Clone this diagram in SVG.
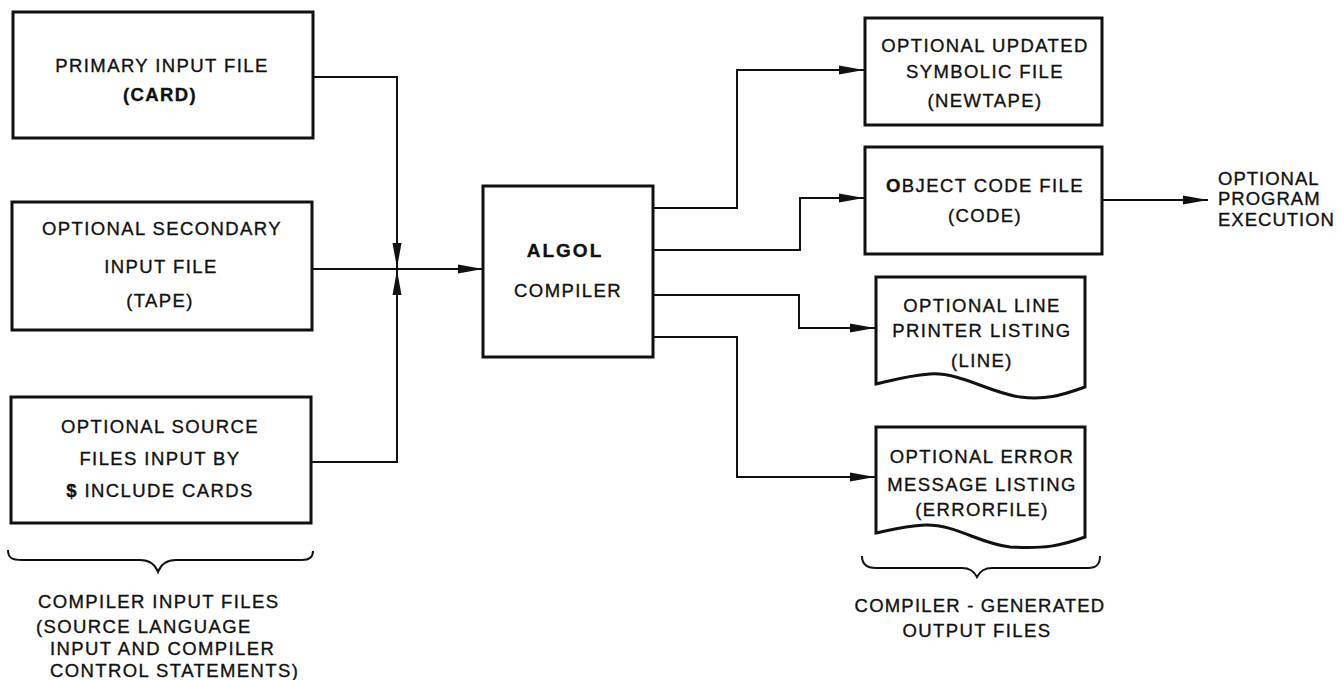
<svg xmlns="http://www.w3.org/2000/svg" width="1341" height="680" viewBox="0 0 1341 680">
<defs>
<marker id="ah" markerUnits="userSpaceOnUse" markerWidth="28" markerHeight="12" refX="25" refY="5" orient="auto">
<path d="M0,0.5 L25,5 L0,9.5 Z" fill="#111"/>
</marker>
<style>
.box{fill:#fff;stroke:#111;stroke-width:3}
.ln{fill:none;stroke:#111;stroke-width:2}
.t{font-family:"Liberation Sans","DejaVu Sans",sans-serif;font-size:18.5px;letter-spacing:1.4px;fill:#111;stroke:#111;stroke-width:0.35px;text-anchor:middle}
.tl{text-anchor:start}
.b{font-weight:bold}
.br{fill:none;stroke:#111;stroke-width:2}
</style>
</defs>
<rect width="1341" height="680" fill="#fff"/>

<g id="connectors">
<polyline class="ln" points="313,77 397,77 397,268" marker-end="url(#ah)"/>
<polyline class="ln" points="311,462 397,462 397,270" marker-end="url(#ah)"/>
<polyline class="ln" points="312,269 483,269" marker-end="url(#ah)"/>
<polyline class="ln" points="653,208 737,208 737,70 864,70" marker-end="url(#ah)"/>
<polyline class="ln" points="653,250 800,250 800,198 864,198" marker-end="url(#ah)"/>
<polyline class="ln" points="653,295 799,295 799,328 875,328" marker-end="url(#ah)"/>
<polyline class="ln" points="653,337 737,337 737,477 875,477" marker-end="url(#ah)"/>
<polyline class="ln" points="1102,200 1208,200" marker-end="url(#ah)"/>
</g>

<g id="primary">
<rect class="box" x="13" y="12" width="300" height="126"/>
<text class="t" x="162" y="72">PRIMARY INPUT FILE</text>
<text class="t b" x="160" y="101">(CARD)</text>
</g>

<g id="secondary">
<rect class="box" x="12" y="202" width="300" height="128"/>
<text class="t" x="162" y="235">OPTIONAL SECONDARY</text>
<text class="t" x="161" y="273">INPUT FILE</text>
<text class="t" x="160" y="307">(TAPE)</text>
</g>

<g id="include">
<rect class="box" x="11" y="397" width="300" height="126"/>
<text class="t" x="160" y="433">OPTIONAL SOURCE</text>
<text class="t" x="160" y="465">FILES INPUT BY</text>
<text class="t" x="160" y="497"><tspan class="b">$</tspan> INCLUDE CARDS</text>
</g>

<g id="compiler">
<rect class="box" x="483" y="186" width="170" height="171"/>
<text class="t b" x="565" y="257" style="font-size:19px;letter-spacing:2px">ALGOL</text>
<text class="t" x="568" y="297">COMPILER</text>
</g>

<g id="newtape">
<rect class="box" x="865" y="18" width="237" height="107"/>
<text class="t" x="985" y="52">OPTIONAL  UPDATED</text>
<text class="t" x="985" y="78">SYMBOLIC FILE</text>
<text class="t" x="985" y="107">(NEWTAPE)</text>
</g>

<g id="code">
<rect class="box" x="865" y="147" width="237" height="107"/>
<text class="t" x="985" y="192"><tspan class="b">O</tspan>BJECT CODE FILE</text>
<text class="t" x="985" y="222">(CODE)</text>
</g>

<g id="execution">
<text class="t tl" x="1218" y="185" style="letter-spacing:1px">OPTIONAL</text>
<text class="t tl" x="1218" y="205" style="letter-spacing:1px">PROGRAM</text>
<text class="t tl" x="1218" y="226" style="letter-spacing:1px">EXECUTION</text>
</g>

<g id="line">
<path class="box" d="M876,277 L1085,277 L1085,387 C1060,396 1045,400 1020,397 C990,393 960,372 930,374 C905,376 890,381 876,384 Z"/>
<text class="t" x="982" y="312">OPTIONAL LINE</text>
<text class="t" x="982" y="337">PRINTER LISTING</text>
<text class="t" x="982" y="367">(LINE)</text>
</g>

<g id="errorfile">
<path class="box" d="M876,427 L1085,427 L1085,537 C1060,546 1045,549 1010,547 C980,544 955,524 925,525 C905,526 890,530 876,533 Z"/>
<text class="t" x="982" y="463">OPTIONAL ERROR</text>
<text class="t" x="982" y="491">MESSAGE LISTING</text>
<text class="t" x="982" y="516">(ERRORFILE)</text>
</g>

<g id="input-label">
<path class="br" d="M8,550 C8,558 12,560 22,560 L140,560 C150,560 155,564 158,572 C161,564 166,560 176,560 L302,560 C310,560 313,557 313,551"/>
<text class="t tl" x="38" y="608">COMPILER INPUT FILES</text>
<text class="t tl" x="36" y="633">(SOURCE LANGUAGE</text>
<text class="t tl" x="50" y="655">INPUT AND COMPILER</text>
<text class="t tl" x="50" y="677">CONTROL STATEMENTS)</text>
</g>

<g id="output-label">
<path class="br" d="M862,556 C862,564 866,568 876,568 L962,568 C970,568 974,571 977,577 C980,571 984,568 992,568 L1088,568 C1097,568 1100,564 1100,556"/>
<text class="t" x="980" y="612" style="letter-spacing:1.2px">COMPILER - GENERATED</text>
<text class="t" x="977" y="637">OUTPUT FILES</text>
</g>
</svg>
